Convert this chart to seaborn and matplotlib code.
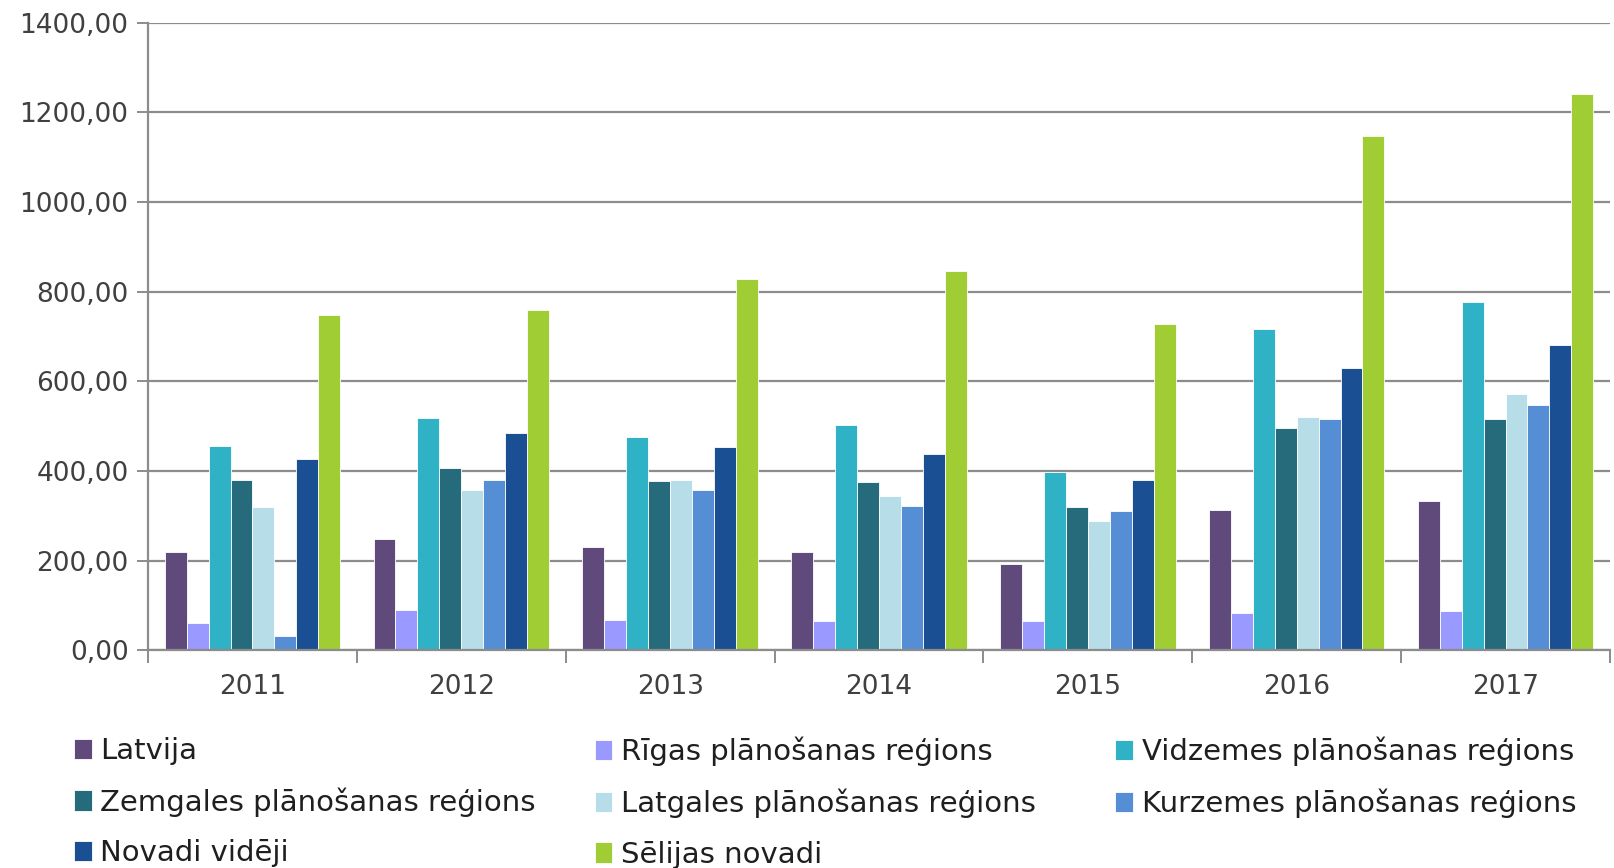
import pandas as pd
import numpy as np
import seaborn as sns
import matplotlib.pyplot as plt
from matplotlib.ticker import FuncFormatter, FixedLocator

years = ['2011', '2012', '2013', '2014', '2015', '2016', '2017']

series_names = ['Latvija', 'Rīgas plānošanas reģions', 'Vidzemes plānošanas reģions',
                'Zemgales plānošanas reģions', 'Latgales plānošanas reģions',
                'Kurzemes plānošanas reģions', 'Novadi vidēji', 'Sēlijas novadi']

latvija = [220, 249, 231, 220, 193, 314, 333]
rigas = [62, 90, 69, 65, 65, 83, 88]
vidzemes = [455, 519, 477, 502, 398, 717, 778]
zemgales = [379, 406, 378, 376, 320, 497, 517]
latgales = [320, 357, 380, 345, 288, 521, 571]
kurzemes = [33, 381, 358, 323, 311, 517, 547]
novadi = [428, 484, 454, 439, 380, 629, 680]
selijas = [748, 760, 828, 846, 727, 1147, 1240]

colors = ['#604A7B', '#9999FF', '#2FB2C6', '#266B7B', '#B7DEE8',
          '#558ED5', '#1A4F93', '#9FCD33']

all_values = [latvija, rigas, vidzemes, zemgales, latgales, kurzemes, novadi, selijas]
rows = []
for name, vals in zip(series_names, all_values):
    for yr, v in zip(years, vals):
        rows.append({'year': yr, 'value': v, 'series': name})
df = pd.DataFrame(rows)

fig = plt.figure(figsize=(16.14, 8.68), dpi=100)
ax = fig.add_axes([0.0917, 0.2506, 0.9058, 0.7234])

sns.barplot(data=df, x='year', y='value', hue='series', order=years,
            hue_order=series_names, palette=colors, width=0.84, saturation=1,
            edgecolor='white', linewidth=0.6, ax=ax)

grid_col = '#8C8C8C'
text_col = '#404040'
ax.set_ylim(0, 1400)
ax.set_xlim(-0.5, len(years) - 0.5)
ax.set_yticks(np.arange(0, 1401, 200))
ax.yaxis.set_major_formatter(FuncFormatter(lambda v, p: f"{v:.2f}".replace('.', ',')))
ax.yaxis.grid(True, color=grid_col, linewidth=1.6)
ax.set_axisbelow(True)
ax.set_xlabel('')
ax.set_ylabel('')

for s in ['top', 'right']:
    ax.spines[s].set_visible(False)
for s in ['left', 'bottom']:
    ax.spines[s].set_color(grid_col)
    ax.spines[s].set_linewidth(1.6)

ax.tick_params(axis='y', length=8, width=1.4, color=grid_col, labelsize=19,
               labelcolor=text_col, pad=6)
ax.tick_params(axis='x', which='major', length=0, labelsize=19,
               labelcolor=text_col, pad=17)
ax.xaxis.set_minor_locator(FixedLocator(np.arange(-0.5, len(years), 1.0)))
ax.tick_params(axis='x', which='minor', length=9, width=1.4, color=grid_col)

handles, labels = ax.get_legend_handles_labels()
ax.get_legend().remove()

# three fixed-width legend columns, items read row by row
col_x = [0.046, 0.3685, 0.691]
for c, x in enumerate(col_x):
    idx = list(range(c, len(handles), 3))
    fig.legend([handles[i] for i in idx], [labels[i] for i in idx],
               loc='upper left', bbox_to_anchor=(x, 0.151), frameon=False,
               fontsize=21, handlelength=0.6, handleheight=0.7,
               handletextpad=0.3, labelspacing=0.77, borderpad=0,
               borderaxespad=0.0, labelcolor='#1F1F1F')

fig.savefig('out.png', dpi=100)
